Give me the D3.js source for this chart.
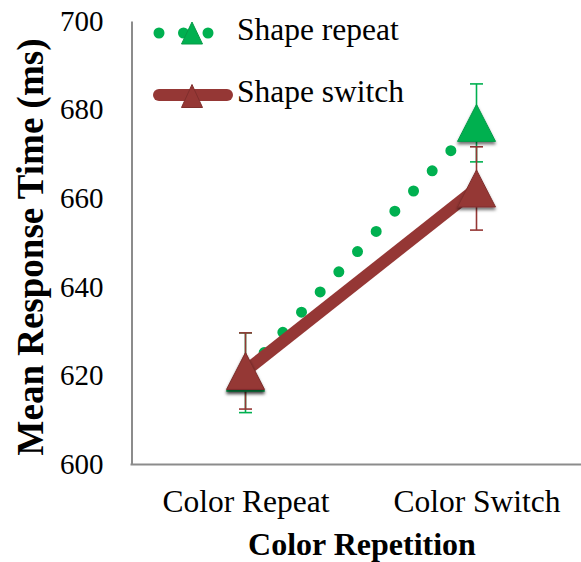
<!DOCTYPE html>
<html>
<head>
<meta charset="utf-8">
<script src="https://cdn.jsdelivr.net/npm/d3@7"></script>
<style>
  html, body { margin: 0; padding: 0; background: #fff; }
  svg { display: block; }
  text { font-family: "Liberation Serif", "Times New Roman", serif; fill: #000; }
</style>
</head>
<body>
<svg id="chart" width="581" height="562"></svg>
<script>
// Mean response time by colour repetition, split by shape repetition
const categories = ["Color Repeat", "Color Switch"];
const shapeRepeat = [620.6, 677.0];
const shapeRepeatErr = [9.0, 8.8];
const shapeSwitch = [621.0, 662.2];
const shapeSwitchErr = [8.6, 9.4];
const yTicks = [600, 620, 640, 660, 680, 700];
const seriesNames = ["Shape repeat", "Shape switch"];

const svg = d3.select("#chart");

const x = d3.scalePoint().domain(categories).range([130, 592]).padding(0.5);
const y = d3.scaleLinear().domain([600, 700]).range([464, 21]);

const green = "#00B050", red = "#953735", axisGrey = "#8c8c8c";

const defs = svg.append("defs");
const shadow = defs.append("filter").attr("id", "shadow")
  .attr("x", "-30%").attr("y", "-30%").attr("width", "160%").attr("height", "170%");
shadow.append("feDropShadow").attr("dx", 0).attr("dy", 2.5)
  .attr("stdDeviation", 1.6).attr("flood-color", "#000").attr("flood-opacity", 0.55);

const tri = (w, h) => `M0,${-h / 2}L${w / 2},${h / 2}L${-w / 2},${h / 2}Z`;

// Axes
const yAxis = svg.append("g").attr("transform", "translate(131.5,0)")
  .call(d3.axisLeft(y).tickValues(yTicks).tickSize(0).tickPadding(28));
yAxis.select(".domain").attr("stroke", axisGrey).attr("stroke-width", 2);
yAxis.selectAll("text").attr("font-size", 29).attr("font-family", "Liberation Serif");

const xAxis = svg.append("g").attr("transform", "translate(0,464)")
  .call(d3.axisBottom(x).tickSize(0));
xAxis.select(".domain").attr("stroke", axisGrey).attr("stroke-width", 2);
xAxis.selectAll("text").attr("font-size", 31.5).attr("font-family", "Liberation Serif")
  .attr("y", 48).attr("dy", 0);

// Axis titles
svg.append("text").attr("transform", "translate(43,247) rotate(-90)")
  .attr("text-anchor", "middle").attr("font-size", 37).attr("font-weight", "bold")
  .text("Mean Response Time (ms)");
svg.append("text").attr("x", 362).attr("y", 555)
  .attr("text-anchor", "middle").attr("font-size", 32).attr("font-weight", "bold")
  .text("Color Repetition");

const line = d3.line().x((d, i) => x(categories[i])).y(d => y(d));

// Series lines
svg.append("path").datum(shapeRepeat).attr("d", line)
  .attr("fill", "none").attr("stroke", green).attr("stroke-width", 11)
  .attr("stroke-linecap", "round").attr("stroke-dasharray", "0 27.5");
svg.append("path").datum(shapeSwitch).attr("d", line)
  .attr("fill", "none").attr("stroke", red).attr("stroke-width", 12);

// Error bars
function errorBars(vals, errs, color) {
  const g = svg.append("g").attr("stroke", color).attr("stroke-width", 1.6).attr("fill", "none");
  vals.forEach((v, i) => {
    const cx = x(categories[i]);
    const y0 = y(v - errs[i]), y1 = y(v + errs[i]);
    g.append("line").attr("x1", cx).attr("x2", cx).attr("y1", y0).attr("y2", y1);
    g.append("line").attr("x1", cx - 6.5).attr("x2", cx + 6.5).attr("y1", y0).attr("y2", y0);
    g.append("line").attr("x1", cx - 6.5).attr("x2", cx + 6.5).attr("y1", y1).attr("y2", y1);
  });
}
errorBars(shapeRepeat, shapeRepeatErr, green);
errorBars(shapeSwitch, shapeSwitchErr, red);

// Markers
function markers(vals, color, stroke) {
  svg.append("g").selectAll("path").data(vals).join("path")
    .attr("transform", (d, i) => `translate(${x(categories[i])},${y(d)})`)
    .attr("d", tri(38, 37)).attr("fill", color)
    .attr("stroke", stroke).attr("stroke-width", 1)
    .attr("filter", "url(#shadow)");
}
markers(shapeRepeat, green, "#079a47");
markers(shapeSwitch, red, "#7f2e2c");

// Legend
const leg = svg.append("g");
leg.append("line").attr("x1", 159).attr("x2", 209).attr("y1", 33).attr("y2", 33)
  .attr("stroke", green).attr("stroke-width", 11).attr("stroke-linecap", "round")
  .attr("stroke-dasharray", "0 24.5");
leg.append("path").attr("transform", "translate(192,33)").attr("d", tri(21, 22))
  .attr("fill", green).attr("stroke", "#079a47").attr("stroke-width", 1);
leg.append("line").attr("x1", 159).attr("x2", 227).attr("y1", 95).attr("y2", 95)
  .attr("stroke", red).attr("stroke-width", 12).attr("stroke-linecap", "round");
leg.append("path").attr("transform", "translate(192,96)").attr("d", tri(21, 23))
  .attr("fill", red).attr("stroke", "#7f2e2c").attr("stroke-width", 1);
leg.append("text").attr("x", 237).attr("y", 40).attr("font-size", 31.5).text(seriesNames[0]);
leg.append("text").attr("x", 237).attr("y", 102).attr("font-size", 31.5).text(seriesNames[1]);
</script>
</body>
</html>
